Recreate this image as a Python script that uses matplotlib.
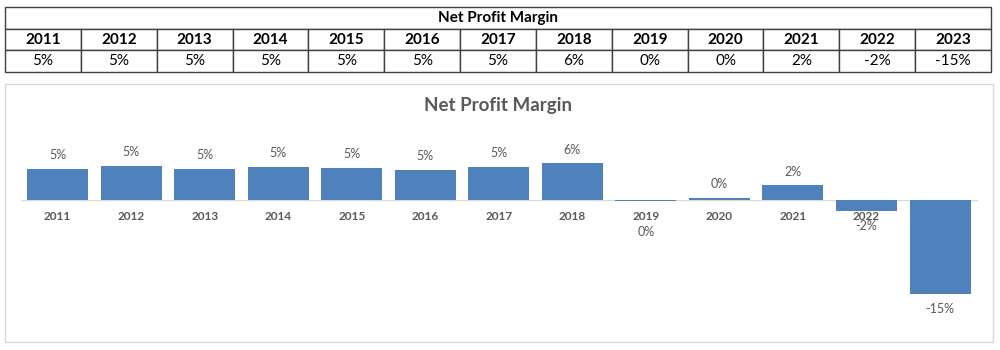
import matplotlib.pyplot as plt
import matplotlib.patches as mpatches

plt.rcParams['font.family'] = ['Lato', 'DejaVu Sans']

years = ['2011', '2012', '2013', '2014', '2015', '2016', '2017',
         '2018', '2019', '2020', '2021', '2022', '2023']
# margins in percent
margin = [4.9, 5.4, 4.9, 5.2, 5.1, 4.7, 5.2, 5.8, -0.2, 0.3, 2.3, -1.75, -14.9]
labels = ['%d%%' % int(round(v)) for v in margin]

fig = plt.figure(figsize=(10, 3.5), dpi=100)

# ---- table on top ----
tax = fig.add_axes([0.005, 1 - 72 / 350, 0.986, 65 / 350])
tax.axis('off')
t1 = tax.table(cellText=[['Net Profit Margin']], cellLoc='center',
               bbox=[0, 0.662, 1, 0.338])
t2 = tax.table(cellText=[years, labels], cellLoc='center',
               bbox=[0, 0, 1, 0.662])
for tb in (t1, t2):
    tb.auto_set_font_size(False)
    for (r, c), cell in tb.get_celld().items():
        cell.set_edgecolor('#404040')
        cell.set_linewidth(1.0)
        cell.set_text_props(fontsize=11, color='black')
for (r, c), cell in t1.get_celld().items():
    cell.set_text_props(fontweight='bold')
for (r, c), cell in t2.get_celld().items():
    if r == 0:
        cell.set_text_props(fontweight='bold')

# ---- chart box ----
fig.patches.append(mpatches.Rectangle((0.005, 1 - 342 / 350), 0.988, 258 / 350,
                                      transform=fig.transFigure, fill=False,
                                      edgecolor='#d9d9d9', linewidth=1))
fig.text(0.498, 1 - 105 / 350, 'Net Profit Margin', ha='center', va='center',
         fontsize=13.5, fontweight='bold', color='#595959')

ax = fig.add_axes([0.0208, 1 - 325 / 350, 0.956, 195 / 350])
x = list(range(len(years)))
bars = ax.bar(x, margin, width=0.83, color='#4f81bd', zorder=2)
ax.set_xlim(-0.5, len(years) - 0.5)
ax.set_ylim(-19.84, 11.1)

for xi, v, lab in zip(x, margin, labels):
    if v >= 0:
        off = 10
    elif v > -1:
        off = -22  # keep clear of the year label
    else:
        off = -11
    ax.annotate(lab, (xi, v), xytext=(0, off), textcoords='offset points',
                ha='center', va='center', fontsize=9, color='#595959')

for s in ['top', 'right', 'left']:
    ax.spines[s].set_visible(False)
ax.spines['bottom'].set_position(('data', 0))
ax.spines['bottom'].set_color('#d9d9d9')
ax.spines['bottom'].set_zorder(1)
ax.set_yticks([])
ax.set_xticks(x)
ax.set_xticklabels(years, fontsize=8.5, color='#595959', fontweight='bold')
ax.tick_params(axis='x', length=0, pad=8)
for lbl in ax.get_xticklabels():
    lbl.set_zorder(5)
ax.patch.set_alpha(0)

plt.savefig('out.png', dpi=100)
